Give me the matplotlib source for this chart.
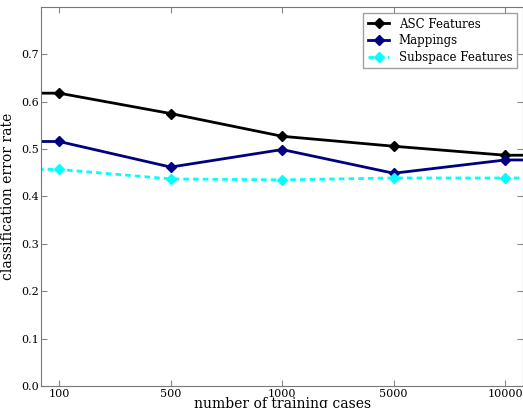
import numpy as np
import matplotlib
matplotlib.use("Agg")
import matplotlib.pyplot as plt

# Data
train_cases = ["100", "500", "1000", "5000", "10000"]
asc_features = [0.618, 0.575, 0.527, 0.506, 0.487]
mappings = [0.516, 0.462, 0.499, 0.449, 0.477]
subspace_features = [0.457, 0.437, 0.435, 0.439, 0.439]

plt.rcParams['font.family'] = ['DejaVu Serif']
plt.rcParams['font.size'] = 8

fig = plt.figure(figsize=(5.23, 4.08), dpi=100)
ax = fig.add_axes([0.079, 0.054, 0.921, 0.929])

x = np.arange(len(train_cases))
# lines run out to the axes edges, flat from the end points
x_ext = np.r_[-1, x, len(x)]

def draw(vals, color, ls, label):
    v = np.r_[vals[0], vals, vals[-1]]
    line, = ax.plot(x_ext, v, color=color, ls=ls, lw=2, marker='D', markersize=5,
                    markeredgecolor=color, markevery=list(range(1, len(vals) + 1)),
                    label=label)
    if ls == '--':
        line.set_dashes((2, 1.5))

draw(asc_features, 'black', '-', 'ASC Features')
draw(mappings, '#000080', '-', 'Mappings')
draw(subspace_features, 'cyan', '--', 'Subspace Features')

ax.set_xlim(-0.16, 4.16)
ax.set_ylim(0, 0.8)
ax.set_xticks(x)
ax.set_xticklabels(train_cases)
ax.set_yticks(np.arange(0, 0.75, 0.1))
ax.tick_params(direction='in', color='#888888', length=4, top=True, right=True, pad=2)
for s in ax.spines.values():
    s.set_color('#777777')

ax.set_xlabel('number of training cases', fontsize=10, labelpad=-1)
ax.set_ylabel('classification error rate', fontsize=10, labelpad=4)

leg = ax.legend(loc='upper right', fancybox=False, fontsize=8.5,
                handlelength=1.8, borderpad=0.4, labelspacing=0.3,
                borderaxespad=0.5)
leg.get_frame().set_edgecolor('#888888')
leg.get_frame().set_linewidth(1)

fig.savefig('out.png', dpi=100)
